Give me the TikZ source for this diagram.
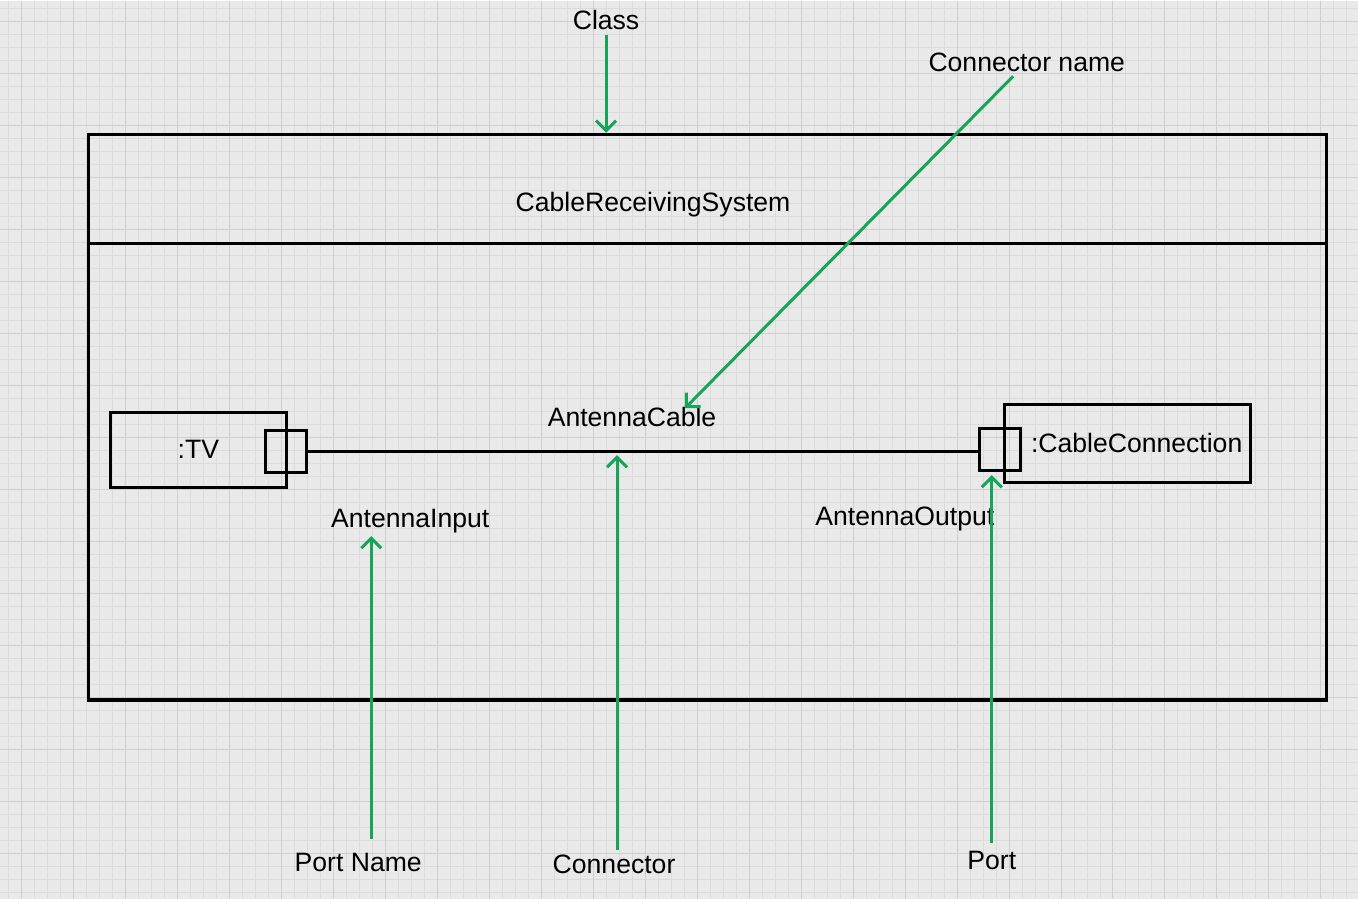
\documentclass[tikz,border=0pt]{standalone}
\usepackage{fontspec}
\setmainfont{Liberation Sans}
\usepackage{xcolor}
\usetikzlibrary{arrows.meta,positioning,calc}

\definecolor{paper}{RGB}{233,233,233}
\definecolor{gridgray}{RGB}{219,219,219}
\definecolor{gridmajor}{RGB}{207,207,207}
\definecolor{hintgreen}{RGB}{22,165,88}

\tikzset{
  frame/.style={draw=black,line width=1.7pt},
  partbox/.style={draw=black,line width=1.5pt,inner sep=0pt,font=\fontsize{13.3}{16}\selectfont},
  portbox/.style={draw=black,line width=1.5pt,inner sep=0pt,minimum width=20.5pt,minimum height=21pt},
  lbl/.style={font=\fontsize{13.3}{16}\selectfont,inner sep=2pt},
  pointer/.style={draw=hintgreen,line width=1.5pt,-{Straight Barb[length=5pt,width=10pt,line width=1.5pt]}},
  wire/.style={line width=1.5pt}
}

\begin{document}
\begin{tikzpicture}[x=0.5pt,y=-0.5pt]
% paper and grid
\fill[paper] (0,0) rectangle (1358,899);
\foreach \k in {0,...,103}
    \draw[gridgray,line width=0.5pt] ({8.3+13*\k},0) -- ({8.3+13*\k},899);
\foreach \k in {0,...,68}
    \draw[gridgray,line width=0.5pt] (0,{8.3+13*\k}) -- (1358,{8.3+13*\k});
\foreach \k in {1,5,...,101}
    \draw[gridmajor,line width=0.5pt] ({8.3+13*\k},0) -- ({8.3+13*\k},899);
\foreach \k in {1,5,...,65}
    \draw[gridmajor,line width=0.5pt] (0,{8.3+13*\k}) -- (1358,{8.3+13*\k});

% class frame
\node[frame,inner sep=0pt,minimum width=619.5pt,minimum height=283pt] (sys) at (707.5,417) {};
\draw[frame] (88,243) -- (1325,243);
\node[lbl] (sysname) at (653,204) {CableReceivingSystem};

% parts and ports
\node[partbox,minimum width=88pt,minimum height=37.5pt] (tv) at (198,449.5) {:TV};
\node[portbox] (inport) at (285.5,451) {};
\node[partbox,minimum width=123pt,minimum height=39pt] (cable) at (1128,443) {\hspace{9pt}:CableConnection};
\node[portbox] (outport) at (1000.5,449) {};
\draw[wire] (inport.east) -- (inport.east -| outport.west);

% names
\node[lbl] (cablename) at (632,417) {AntennaCable};
\node[lbl] (inname) at (410,521) {AntennaInput};
\node[lbl] (outname) at (905,519) {AntennaOutput};

% callouts
\node[lbl] (cls) at (606,20) {Class};
\node[lbl] (connname) at (1027,62) {Connector name};
\node[lbl] (portname) at (358,863) {Port Name};
\node[lbl] (connector) at (614,864) {Connector};
\node[lbl] (port) at (992,861) {Port};

\coordinate (nameTip) at (685,408);
\coordinate (inTip) at (371,536);
\coordinate (conTip) at (617,455);
\coordinate (portTip) at (992,475);

\draw[pointer] (cls) -- (cls |- sys.north);
\draw[pointer] (connname) -- (nameTip);
\draw[pointer,shorten <=5pt] (portname.north -| inTip) -- (inTip);
\draw[pointer] (connector.north -| conTip) -- (conTip);
\draw[pointer,shorten <=2pt] (port) -- (portTip);
\end{tikzpicture}
\end{document}
